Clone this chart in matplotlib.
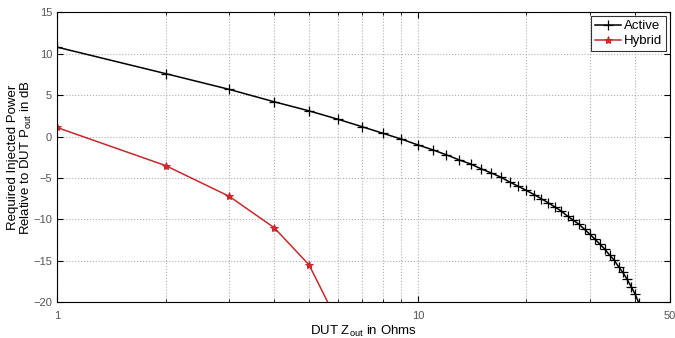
import numpy as np
import matplotlib
matplotlib.use("Agg")
import matplotlib.pyplot as plt
from matplotlib.ticker import FixedLocator, NullFormatter

plt.rcParams['font.family'] = ['Liberation Sans', 'DejaVu Sans']
plt.rcParams['mathtext.fontset'] = 'custom'
plt.rcParams['mathtext.rm'] = 'Liberation Sans'
plt.rcParams['mathtext.it'] = 'Liberation Sans'

# ---- data ----
active_z = list(range(1, 42))
active_db = [10.8, 7.6, 5.7, 4.2, 3.1, 2.1, 1.2, 0.4, -0.3, -1.0,
             -1.6, -2.2, -2.8, -3.3, -3.9, -4.4, -4.9, -5.5, -6.0, -6.5,
             -7.0, -7.5, -8.0, -8.5, -9.0, -9.6, -10.1, -10.6, -11.2, -11.8,
             -12.4, -13.0, -13.6, -14.3, -14.9, -15.7, -16.4, -17.2, -18.1, -19.0,
             -20.1]
hybrid_z = [1, 2, 3, 4, 5, 6]
hybrid_db = [1.1, -3.5, -7.2, -11.0, -15.5, -22.4]

x_major = [1, 10, 50]
x_minor = [2, 3, 4, 5, 6, 7, 8, 9, 20, 30, 40]
y_ticks = [-20, -15, -10, -5, 0, 5, 10, 15]

fig = plt.figure(figsize=(6.75, 3.38), dpi=100)
ax = fig.add_axes([0.0844, 0.1056, 0.9082, 0.858])

ax.plot(active_z, active_db, color='black', lw=1.1, marker='+', ms=6.5, mew=0.9, label='Active')
ax.plot(hybrid_z, hybrid_db, color='#c8282c', lw=1.1, marker='*', ms=6, mew=0.7,
        mfc='#e0202a', mec='#c8282c', label='Hybrid')

ax.set_xscale('log')
ax.set_xlim(1, 50)
ax.set_ylim(-20, 15)
ax.xaxis.set_major_locator(FixedLocator(x_major))
ax.xaxis.set_minor_locator(FixedLocator(x_minor))
ax.xaxis.set_minor_formatter(NullFormatter())
ax.set_xticklabels([str(v) for v in x_major])
ax.set_yticks(y_ticks)

ax.grid(True, which='both', linestyle=':', color='#b0b0b0', lw=0.8)
ax.tick_params(which='both', direction='in', top=True, right=True, colors='black',
               labelcolor='#555555', labelsize=8)
ax.tick_params(which='major', length=4)
ax.tick_params(which='minor', length=2)
ax.tick_params(axis='x', pad=6)
for s in ax.spines.values():
    s.set_color('black')
    s.set_linewidth(0.8)

ax.set_xlabel('DUT Z$_{\\mathrm{out}}$ in Ohms', fontsize=9.5)
ax.xaxis.set_label_coords(0.5, -0.075)
ax.set_ylabel('Required Injected Power\nRelative to DUT P$_{\\mathrm{out}}$ in dB',
              fontsize=9.5, linespacing=0.95)
ax.yaxis.set_label_coords(-0.038, 0.5)

leg = ax.legend(loc='upper right', fontsize=9.5, frameon=True, fancybox=False,
                edgecolor='black', borderaxespad=0.3, handlelength=2.0,
                handletextpad=0.2, borderpad=0.3, labelspacing=0.2)
leg.get_frame().set_linewidth(0.8)

fig.savefig('out.png', dpi=100)
